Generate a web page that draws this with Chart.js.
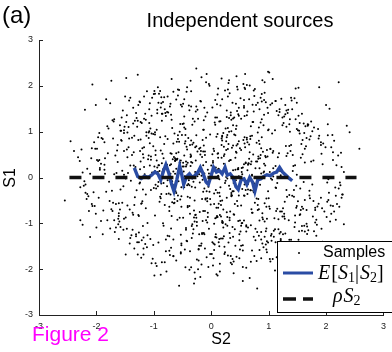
<!DOCTYPE html>
<html>
<head>
<meta charset="utf-8">
<script src="https://cdn.jsdelivr.net/npm/chart.js@4.4.0/dist/chart.umd.min.js"></script>
<style>
  html, body { margin: 0; padding: 0; background: #fff; }
  #wrap { width: 392px; height: 352px; position: relative; }
</style>
</head>
<body>
<div id="wrap"><canvas id="myChart"></canvas></div>
<script>
// samples: S2 (horizontal) and S1 (vertical)
const sampleS2 = [
  -0.42, 1.13, 0.27, -1.58, 0.71, -0.09, 0.93, -0.66, 1.74, -1.21, 0.15, -0.33, 0.58, -2.07, 0.84, -0.77, 1.36, 0.02, -0.51, 1.02,
  0.39, -1.04, -0.18, 0.66, -1.37, 1.49, -0.61, 0.11, -0.88, 2.14, -0.24, 0.47, -1.69, 0.79, 0.05, -0.95, 1.21, -0.36, 0.52, -1.12,
  0.91, -0.07, 1.63, -0.49, -1.83, 0.31, 0.74, -0.28, 1.08, -0.73, 0.19, -1.46, 0.63, 1.29, -0.14, -0.98, 0.44, 2.31, -0.57, 0.08,
  -1.26, 0.57, -0.39, 1.41, 0.13, -0.82, -1.95, 0.96, 0.29, -0.47, 1.82, -0.11, 0.68, -1.33, 0.38, -0.69, 1.17, -0.03, -1.57, 0.87,
  0.22, -0.58, 1.56, -0.93, 0.49, -0.21, -1.14, 0.81, 1.97, -0.44, 0.07, -1.71, 0.61, -0.31, 1.26, 0.34, -0.86, -2.28, 0.99, -0.16,
  1.38, -0.63, 0.18, -1.19, 0.72, -0.37, 0.53, 1.67, -1.01, 0.26, -0.54, 0.89, -1.52, 0.12, 1.11, -0.79, -0.06, 0.46, -1.28, 2.02,
  -0.26, 0.95, -1.41, 0.36, 1.52, -0.71, 0.04, -0.97, 0.64, -0.19, 1.24, -1.63, 0.41, -0.45, 0.83, -1.09, 1.88, -0.34, 0.17, -0.84,
  0.69, -1.23, 0.09, 1.33, -0.52, -2.16, 0.58, 1.04, -0.29, 0.27, -0.91, 1.59, -0.13, 0.76, -1.44, 0.33, -0.67, 1.19, 0.01, -1.76,
  -0.62, 1.46, 0.24, -0.38, 0.87, -1.18, 0.14, 2.41, -0.81, 0.55, -0.23, -1.34, 0.98, 0.37, -0.56, 1.71, -1.03, 0.21, -0.12, 0.65,
  1.28, -0.46, -1.66, 0.43, 0.06, -0.89, 1.01, -0.27, 0.73, -1.49, 0.28, 1.61, -0.72, -0.04, 0.92, -1.22, 0.48, -0.35, 1.44, -2.39,
  0.16, -0.74, 1.09, -1.11, 0.59, 0.32, -0.43, 1.78, -0.96, 0.11, -1.59, 0.77, -0.17, 1.31, -0.65, 0.45, -2.01, 0.85, -0.3, 0.03,
  -0.88, 0.62, 1.42, -0.22, -1.3, 0.25, 0.97, -0.59, 2.22, -0.08, 0.51, -1.07, 0.36, -0.41, 1.14, -1.86, 0.69, 0.12, -0.78, 1.53,
  0.47, -1.39, -0.15, 0.82, -0.64, 1.22, 0.07, -1.02, 0.35, 1.68, -0.53, -0.19, 0.94, -1.25, 0.21, -0.7, 1.47, -0.02, 0.6, -1.61,
  -0.37, 1.06, 0.3, -1.72, 0.78, -0.11, -0.85, 1.35, 0.19, -0.48, 2.08, -0.94, 0.54, -0.25, 1.16, -1.48, 0.1, 0.71, -0.6, -2.11,
  1.25, 0.02, -0.99, 0.58, -0.32, 1.87, -1.16, 0.4, -0.07, 0.86, -1.53, 0.23, 1.03, -0.68, -0.14, 0.63, -1.27, 1.39, -0.44, 0.34,
  -0.55, 0.81, -1.92, 0.14, 1.57, -0.83, 0.46, -0.2, 1.12, -1.35, 0.29, -0.5, 0.91, 2.27, -0.76, 0.05, -1.05, 0.67, 0.38, -0.31,
  0.74, -1.47, 0.2, 1.19, -0.4, -0.92, 0.55, 1.73, -0.17, -1.21, 0.88, 0.09, -0.63, 1.44, -1.81, 0.32, -0.26, 0.99, -0.73, 0.13,
  -1.09, 0.41, 1.31, -0.57, 0.06, -1.42, 0.79, -0.35, 1.62, -0.87, 0.24, 0.57, -2.24, 1.08, -0.1, -0.62, 0.35, 1.94, -1.17, 0.48,
  0.87, -0.28, -0.71, 1.51, 0.18, -1.62, 0.66, -0.05, 1.27, -0.99, 0.44, -0.39, 0.12, 1.79, -1.31, 0.6, -0.52, 0.93, -1.85, 0.27,
  -0.19, 1.36, -1.06, 0.5, 0.84, -0.45, -1.24, 0.17, 2.06, -0.68, 0.31, 1.05, -1.56, -0.03, 0.73, -0.9, 1.58, 0.22, -0.42, -0.13,
  1.17, -0.6, 0.28, -1.36, 0.95, -0.24, 0.62, -2.03, 1.43, -0.08, -0.8, 0.39, 1.21, -1.13, 0.15, -0.49, 0.8, 2.36, -0.97, 0.04,
  -0.7, 0.53, -1.5, 1.0, 0.26, -0.34, 1.65, -0.86, -0.12, 0.7, -1.19, 0.42, 1.33, -0.58, -1.78, 0.1, 0.89, -0.27, 1.09, -0.46,
  0.34, -0.93, 1.55, -0.16, -1.28, 0.61, 0.08, -0.64, 1.91, -1.04, 0.5, -0.21, -0.78, 1.26, 0.19, -1.67, 0.75, -0.38, 0.97, 0.0,
  -1.34, 0.71, 0.23, -0.53, 1.37, -2.19, 0.43, -0.09, 0.92, -0.74, 1.5, -1.1, 0.16, 0.56, -0.32, 1.13, -1.45, 0.37, -0.69, 2.17,
  0.58, -0.17, -1.23, 0.98, 0.13, -0.81, 1.69, -0.43, 0.3, -1.58, 0.82, -0.06, 1.24, -0.95, 0.47, -0.29, -1.97, 1.02, 0.2, -0.61,
  1.48, -0.36, 0.07, -1.01, 0.64, 1.85, -0.75, -0.23, 0.52, -1.4, 1.1, 0.25, -0.55, -1.15, 0.79, 0.33, -0.89, 1.6, -0.04, -2.32,
  -0.47, 1.2, -0.82, 0.35, 2.0, -1.26, 0.11, 0.68, -0.37, 1.34, -0.66, -1.7, 0.9, 0.03, -0.15, 1.52, -1.06, 0.44, 0.76, -0.5,
  0.28, -1.2, 0.6, -0.02, 1.15, -0.79, -1.52, 0.49, 0.85, -0.33, 1.76, -0.9, 0.18, -0.44, 1.07, -1.33, 0.39, 2.12, -0.71, 0.14,
  -0.95, 0.45, 1.28, -0.63, -0.1, 0.83, -1.89, 0.22, 1.45, -0.52, 0.66, -1.08, 0.01, 0.94, -0.28, -1.44, 1.66, 0.31, -0.84, 0.55,
  1.06, -0.41, -0.18, 1.92, -1.32, 0.37, 0.72, -0.92, 0.09, 1.39, -0.59, 0.27, -2.08, 0.86, -0.22, 1.18, -1.12, 0.5, -0.35, 0.99,
  -0.3, 0.88, -1.55, 0.19, 1.3, -0.7, 0.42, -0.14, 2.25, -1.0, 0.61, -0.47, 0.05, 1.49, -1.29, 0.32, -0.6, 0.93, -1.74, 0.24,
  0.67, -0.25, 1.12, -0.85, -1.46, 0.53, 0.15, -0.56, 1.71, -0.13, -1.18, 0.8, 0.36, -0.76, 1.23, -2.2, 0.46, 0.02, -0.4, 1.41,
  -1.0, 0.3, 0.77, -0.33, 1.54, -1.61, 0.12, 0.95, -0.65, 0.21, -1.38, 1.08, -0.07, 0.59, 1.83, -0.88, -0.2, 0.4, -1.14, 0.7,
  0.1, -0.67, 1.35, 0.26, -1.94, 0.84, -0.45, 0.57, -0.11, 1.27, -0.82, 2.04, -0.3, -1.23, 0.65, 0.17, -0.54, 1.11, -1.65, 0.38,
  1.63, -0.98, 0.33, -0.16, 0.9, -1.3, 0.48, -0.73, 1.2, 0.06, -2.45, 0.74, -0.38, 1.46, -0.87, 0.25, 0.58, -1.05, 0.11, -0.24,
  -0.58, 1.04, -0.12, 0.69, -1.2, 0.42, 1.81, -0.49, -0.94, 0.14, 1.26, -1.52, 0.8, -0.06, 0.35, -0.77, 2.58, -1.37, 0.56, 0.96,
  0.2, -1.07, 0.63, 1.58, -0.27, -0.68, 0.97, -1.8, 0.45, 0.08, -0.41, 1.32, -1.13, 0.71, -0.19, 1.0, -0.62, 0.29, -1.49, 1.7,
  -0.83, 0.38, -0.01, 1.15, -1.43, 0.87, 0.23, -0.52, 1.4, -0.98, 0.54, -0.29, -2.0, 0.92, 0.16, -0.66, 1.22, -0.1, 0.64, -1.24,
  0.43, 1.66, -0.7, -0.18, 0.89, -1.17, 0.31, 2.29, -0.43, -1.6, 0.75, 0.05, -0.85, 1.29, 0.19, -0.36, 0.62, -1.08, 1.93, -0.53,
  -1.52, 0.27, 1.07, -0.61, 0.12, -1.27, 0.83, -0.09, 0.52, -0.8, 1.55, -0.26, 0.4, -1.69, 1.03, 0.09, -0.48, -2.55, 1.36, -0.15,
  -1.85, 1.62, -0.35, 2.05, -1.12, 0.48, 1.91, -2.22, 0.87, -0.64, 1.33, -1.47, 0.15, 2.18, -0.92, 1.05, -1.71, 0.62, -0.21, 1.48,
  -0.72, 0.31, -1.58, 1.77, -0.05, 2.31, -1.29, 0.78, -2.02, 1.19, -0.43, 0.95, -1.88, 0.22, 1.64, -1.03, 0.57, -2.14, 1.38, -0.28,
  1.12, -1.66, 0.39, -0.81, 2.12, -0.17, 1.53, -1.34, 0.68, -2.29, 0.04, 1.86, -0.58, 1.27, -1.92, 0.46, -1.17, 2.24, -0.37, 0.89,
  -1.41, 0.73, -0.26, 1.97, -0.98, 0.11, 1.42, -1.79, 0.52, -0.69, 2.03, -1.24, 0.86, -0.13, 1.71, -2.08, 0.34, -0.87, 1.24, -1.55,
  0.27, -2.17, 1.58, -0.46, 0.96, -1.36, 2.27, -0.09, 1.07, -1.61, 0.61, -0.76, 1.83, -0.33, 0.43, -1.95, 1.16, -0.54, 2.09, -1.08,
  -0.16, 1.36, -1.22, 0.58, -1.99, 0.93, -0.53, 1.69, -0.94, 0.07, 2.16, -1.49, 0.38, -0.71, 1.11, -1.73, 0.74, -0.41, 1.52, -2.26,
  0.83, -0.38, 1.78, -1.14, 0.19, -1.68, 1.29, -0.61, 2.21, -0.99, 0.49, -2.11, 1.01, -0.22, 1.59, -1.31, 0.64, -0.86, 1.94, -0.08,
  -1.81, 1.22, -0.47, 0.71, -1.27, 2.11, -0.02, 1.47, -1.57, 0.36, -0.84, 1.87, -1.96, 0.57, -0.31, 1.14, -1.42, 0.92, -0.63, 1.68,
  0.12, -1.05, 1.63, -0.66, 2.28, -1.43, 0.81, -0.19, 1.31, -2.04, 0.44, -0.52, 1.76, -1.18, 0.28, -0.93, 2.02, -1.62, 0.66, -0.35,
  1.41, -0.77, 0.54, -1.86, 1.03, -0.25, 1.92, -1.11, 0.18, -1.51, 2.14, -0.44, 0.97, -1.74, 0.33, 1.56, -0.98, 0.75, -2.19, 1.19,
  -0.55, 0.88, -1.33, 0.03, 1.72, -2.07, 0.62, -0.72, 1.25, -0.14, 1.99, -1.26, 0.42, -0.89, 1.37, -1.64, 0.09, 2.26, -1.02, 0.51,
  -1.48, 0.24, 1.54, -0.83, 0.69, -1.97, 1.12, -0.36, 0.84, -1.21, 2.07, -0.59, 1.44, -1.54, 0.16, -0.97, 1.81, -0.26, 0.59, -2.13,
  1.95, -0.42, 0.77, -1.63, 0.29, 1.28, -0.91, 2.19, -1.38, 0.55, -0.18, 1.66, -1.83, 0.99, -0.66, 1.17, -0.04, -2.24, 1.49, -1.09,
  0.37, -1.24, 2.01, -0.07, 1.09, -1.76, 0.48, -0.56, 1.61, -2.01, 0.91, -0.34, 1.34, -1.46, 0.72, -0.79, 2.12, -1.15, 0.26, 1.79,
  -0.88, 1.51, -0.29, 0.96, -1.52, 0.14, 2.23, -1.01, 0.67, -1.89, 1.21, -0.47, 0.32, -1.28, 1.88, -0.12, 0.82, -1.69, 1.06, -0.61,
  1.31, -1.94, 0.57, -0.73, 1.84, -1.17, 0.05, 1.45, -0.48, 0.81, -2.16, 1.02, -0.86, 1.63, -1.36, 0.39, -0.24, 2.04, -1.59, 0.69,
  -0.21, 0.93, -1.61, 2.09, -0.66, 1.27, -1.04, 0.44, -2.21, 1.58, -0.39, 0.19, -1.41, 1.93, -0.92, 0.63, 1.36, -1.86, 0.11, -0.51,
  1.74, -1.31, 0.23, -0.97, 1.18, -1.72, 0.76, -0.14, 2.17, -0.81, 1.39, -1.99, 0.52, -0.58, 1.03, -1.25, 0.35, 1.67, -0.45, -2.05,
  0.47, -0.35, 1.91, -1.47, 0.61, -0.87, 1.49, -2.09, 0.17, 1.12, -1.19, 0.84, -0.69, 2.22, -1.56, 0.29, -0.11, 1.54, -1.77, 0.99,
  -1.18, 1.59, -0.53, 0.34, -1.91, 0.99, -0.28, 1.81, -1.35, 0.55, -0.76, 2.03, -1.07, 0.07, 1.21, -1.53, 0.88, -0.42, 1.46, -2.28
];
const sampleS1 = [
  0.61, -0.23, 1.32, -1.08, 0.04, 0.87, -0.56, -1.71, 0.35, 1.19, -0.41, 0.72, -0.15, 2.03, -0.94, 0.28, -1.36, 0.51, 1.55, -0.68,
  -0.12, 0.96, -1.49, 0.41, -0.77, 1.63, 0.19, -0.33, -2.12, 0.8, 0.07, -0.95, 1.27, -0.46, 0.58, 1.04, -1.19, 0.25, -0.61, 1.88,
  1.14, -0.52, 0.33, -0.88, 1.71, -0.18, -1.29, 0.66, 0.02, -1.6, 0.91, 0.44, -0.36, 1.38, -0.73, 0.14, 2.21, -1.02, 0.55, -0.27,
  -0.84, 0.29, -0.06, 1.49, -1.41, 0.73, 0.38, -0.64, 1.08, -0.21, -1.85, 0.57, 0.9, -0.43, 0.16, 1.26, -1.13, -0.31, 0.82, 0.09,
  0.47, 1.79, -0.71, 0.12, -1.24, 0.63, -0.37, 0.98, -2.28, 0.24, 1.15, -0.55, -0.08, 0.76, -1.52, 1.42, 0.31, -0.93, 0.05, -0.47,
  -1.61, 0.36, 0.85, -0.26, 1.59, -0.79, 0.21, -1.07, 0.68, 0.01, -0.48, 2.12, -0.9, 0.43, 1.03, -1.35, 0.17, -0.62, 1.24, -0.11,
  0.92, -1.17, 0.26, -0.39, 1.35, 0.08, -1.76, 0.59, -0.14, 1.67, -0.85, 0.34, -0.58, 0.79, -1.27, 0.48, 1.97, -0.2, 0.13, -1.0,
  -0.28, 1.21, -0.66, 0.53, -1.44, 0.19, 0.88, -0.02, -0.96, 1.46, 0.27, -1.99, 0.7, -0.34, 1.1, -0.74, 0.4, -1.22, 0.06, 1.62,
  0.39, -0.83, 1.9, -0.17, 0.64, -1.31, -0.04, 0.99, -0.6, 0.22, 1.28, -1.55, 0.46, -0.3, -2.36, 0.83, 0.11, -0.7, 1.52, 0.3,
  -0.53, 0.74, -1.09, 1.06, 0.15, -0.42, 2.29, -0.81, 0.5, -1.68, 0.93, -0.1, 0.27, -1.12, 1.37, -0.57, 0.03, 0.81, -1.47, 0.58,
  1.23, -0.35, 0.1, -0.99, 0.66, 1.84, -1.38, 0.37, -0.24, 0.95, -0.7, 0.2, -1.9, 1.11, 0.45, -0.51, 1.58, -0.16, -0.87, 0.32,
  -0.45, 0.87, 0.14, -1.56, 1.3, -0.07, 0.6, -0.92, 2.08, -0.3, -1.18, 0.75, 0.02, -0.65, 1.45, 0.28, -1.04, 0.53, -2.05, 1.02,
  0.18, -1.26, 0.82, 0.41, -0.55, 1.72, -0.89, 0.09, -0.38, 1.16, -1.63, 0.65, 0.26, -0.13, 0.97, -1.11, 1.94, -0.47, 0.33, -0.78,
  0.71, -0.05, -1.42, 1.25, 0.35, -0.73, 0.52, -1.96, 0.89, 0.13, -0.61, 1.4, -0.25, -1.05, 0.44, 2.17, -0.84, 0.06, 0.78, -1.3,
  -0.67, 1.53, 0.24, -0.4, -1.22, 0.85, 0.07, 1.31, -0.98, 0.49, -0.19, -1.51, 0.62, 1.08, -0.31, 0.16, -0.82, 1.74, -1.14, 0.38,
  1.0, -0.6, 0.3, -1.34, 0.73, -0.12, 1.92, -0.75, -0.22, 0.55, -1.7, 1.17, 0.11, -0.44, 0.84, -1.01, 0.39, -2.19, 1.29, -0.09,
  -0.32, 0.61, -0.97, 1.43, -0.14, 0.27, -1.48, 0.9, 0.04, -0.56, 1.66, -0.87, 0.42, -0.27, 1.12, -1.21, 0.68, 2.31, -0.64, 0.19,
  0.86, -1.13, 0.47, -0.08, 1.2, -0.7, -1.82, 0.34, 0.97, -0.36, 0.15, 1.56, -1.03, 0.58, -0.48, -0.15, 1.01, -1.4, 0.23, 0.79,
  -1.19, 0.12, 1.61, -0.52, 0.43, -0.9, 0.72, -0.2, 1.33, -2.14, 0.54, 0.01, -0.66, 1.09, -1.28, 0.31, -0.41, 1.85, 0.08, -0.76,
  0.5, -0.38, 1.07, -1.57, 0.2, 0.93, -0.11, -0.85, 1.5, -0.54, 0.36, -1.23, 0.8, 2.0, -0.29, 0.14, -1.06, 0.67, -0.17, 1.25,
  -0.91, 0.4, -0.02, 1.18, -1.46, 0.57, 0.83, -0.62, 0.25, -1.74, 1.41, -0.3, 0.05, 0.99, -0.82, 0.32, -2.42, 1.13, -0.16, 0.63,
  0.29, -1.0, 1.77, -0.45, 0.1, -1.32, 0.68, 1.24, -0.24, -0.69, 0.51, 0.17, -1.52, 0.92, -0.09, 1.6, -0.78, 0.37, -1.16, 0.03,
  1.36, -0.19, -0.8, 0.45, 2.24, -1.07, 0.22, -0.47, 0.77, -1.87, 0.64, 0.07, -0.36, 1.19, -0.95, 0.48, -0.13, 1.47, -1.39, 0.26,
  -0.6, 0.91, 0.16, -1.25, 1.0, -0.33, 0.56, -0.93, 1.69, 0.03, -1.62, 0.4, -0.21, 0.82, 1.28, -0.73, 0.1, -1.08, 0.52, -0.4,
  0.74, -1.44, 0.35, 1.52, -0.57, 0.0, -1.15, 0.67, 2.06, -0.26, 0.46, -0.86, 1.14, -1.93, 0.21, -0.5, 0.88, 0.12, -0.99, 1.7,
  -0.18, 0.5, -1.3, 0.95, 0.28, -0.63, 1.42, -2.0, 0.6, -0.07, -0.89, 1.07, 0.33, -1.45, 0.76, -0.25, 1.89, -0.68, 0.09, 0.44,
  1.09, -0.74, 0.2, -0.34, 1.58, -1.2, 0.52, 0.84, -0.44, -1.58, 0.13, 1.22, -0.91, 0.36, -0.05, 1.96, -1.34, 0.7, -0.55, 0.24,
  -1.05, 0.64, -0.27, 0.94, -0.68, 1.34, 0.06, -1.76, 0.42, 1.15, -0.15, -0.53, 0.71, -1.1, 2.15, 0.19, -0.8, 0.55, -0.37, -1.5,
  0.37, 1.45, -0.9, 0.08, -0.46, 0.8, -1.24, 0.3, 1.73, -0.64, -0.01, 1.01, -1.67, 0.47, -0.22, 0.66, -1.01, 1.3, 0.18, -2.26,
  0.96, -0.42, 0.58, -1.12, 0.23, 1.63, -0.77, -0.1, 0.89, -1.36, 0.41, 0.11, -0.58, 1.2, -1.81, 0.53, 0.02, -0.94, 1.55, -0.3,
  -0.72, 1.27, 0.15, -0.5, 0.69, -1.53, 0.92, 0.27, -0.17, 1.82, -1.04, 0.48, -0.35, 0.06, 1.11, -0.88, 0.39, -1.29, 2.11, -0.12,
  0.55, -0.97, 0.25, 1.39, -0.61, 0.12, -1.88, 0.78, -0.29, 1.04, 0.43, -1.19, 0.65, -0.06, -0.74, 1.48, 0.18, -1.41, 0.86, -0.4,
  -0.23, 0.73, -1.37, 0.32, 1.19, -0.84, 0.04, 1.64, -0.56, -1.09, 0.87, 0.2, -0.45, 2.26, -1.27, 0.59, -0.11, 0.94, -0.67, 0.35,
  1.31, -0.16, -0.93, 0.6, 0.17, -1.58, 1.06, -0.39, 0.49, -0.79, 1.75, -0.04, -2.31, 0.83, 0.31, -0.6, 1.17, -1.13, 0.1, 0.7,
  -0.49, 0.99, 0.38, -1.21, 0.56, -0.28, 1.52, -0.73, 0.14, -1.46, 0.79, 1.9, -0.62, 0.27, -0.13, -1.02, 1.34, 0.46, -0.86, 0.03,
  0.84, -1.27, 0.09, 1.12, -0.52, 0.43, -0.98, 1.61, 0.22, -0.33, -1.7, 0.97, 0.35, -0.77, 1.26, -0.19, 0.63, -1.14, 2.04, -0.46,
  -1.33, 0.26, 0.77, -0.64, 1.44, -0.08, -0.9, 0.53, 1.98, -1.24, 0.32, -0.42, 0.91, -1.59, 0.13, 1.05, -0.3, 0.62, -0.02, -1.93,
  0.42, 1.14, -0.59, -0.12, 0.85, -1.35, 0.51, -0.21, 1.68, -0.83, 0.07, 1.22, -1.09, 0.3, -0.51, 0.74, -2.1, 1.33, -0.26, 0.58,
  -0.06, -0.71, 1.37, 0.19, -1.44, 0.66, 1.0, -0.37, 0.28, -0.96, 1.78, -0.58, 0.12, -1.22, 0.81, 0.45, -0.15, 1.49, -1.66, 0.37,
  1.03, -0.44, -1.78, 0.53, 0.18, 1.58, -0.69, 0.34, -1.05, 0.9, -0.24, 2.38, -0.81, 0.07, 0.63, -1.31, 0.24, -0.5, 1.16, -0.95,
  0.42, -1.05, 1.88, -0.33, -1.52, 1.35, 0.71, -0.18, -1.76, 0.96, 1.41, -1.12, -2.05, 0.27, 1.63, -1.38, 0.85, 2.02, -1.24, -0.66,
  -1.69, 2.12, 1.02, -0.85, -1.95, 0.12, -1.41, 1.58, 0.63, -1.62, 1.87, 0.44, -0.72, -1.28, 1.12, 1.74, -0.94, -0.41, 0.58, -2.21,
  1.67, -0.58, -1.83, 1.49, -0.62, 2.19, -1.17, 0.91, -0.28, 0.36, -1.44, 1.06, 1.92, -1.73, -0.95, 0.73, 1.28, -0.11, -1.61, -0.87,
  -1.32, 1.21, 1.55, -0.74, 1.83, -2.14, 0.49, 1.07, -1.49, -0.84, 0.92, 0.18, 1.74, -1.21, -0.39, 0.64, -1.86, 1.62, 1.31, -0.55,
  0.88, -0.47, 1.39, -1.57, -1.11, 1.52, 0.23, 2.08, 0.54, -1.34, -1.97, 1.77, -0.92, -1.02, 1.61, 0.97, -1.58, 0.32, -0.79, 1.19,
  -1.23, 0.69, -1.75, 1.96, 0.38, -0.96, -1.66, 1.15, 1.48, 1.31, -0.22, -0.87, -1.29, 0.53, -2.03, -0.29, 1.44, -0.62, -1.36, 0.61,
  1.09, -2.01, -0.51, 1.26, 1.71, -1.19, 1.58, -0.34, 0.48, 1.89, -1.37, 0.08, -0.63, -1.57, 0.82, 1.41, -1.09, -1.85, 0.29, 2.26,
  -0.93, -1.46, 1.33, -0.77, 0.82, 0.93, -1.67, 1.27, 1.02, -1.89, 1.65, -0.57, -0.44, 1.52, -1.13, -1.74, -1.44, 0.13, 0.37, 1.13,
  1.94, -0.27, -1.18, -1.35, -0.37, 1.68, -0.71, -2.17, 1.46, 0.77, 1.13, -1.48, 1.01, -1.55, -0.86, 1.97, -0.53, -1.02, 1.71, 0.47,
  -1.54, 1.43, -0.99, 0.17, 1.59, -1.79, 0.52, -1.26, 2.16, 1.11, -0.74, 0.35, -1.63, -0.69, -1.32, 0.43, 0.94, -1.71, -0.15, 1.49,
  -0.88, 1.82, 1.24, -1.92, -0.45, -0.62, 1.36, 1.55, -1.24, 1.04, 0.66, -1.41, -1.49, 0.88, 1.27, 0.59, -2.11, 0.54, -1.77, 1.73,
  1.21, -1.63, 0.96, -1.05, -1.84, 0.36, 1.67, 2.11, 0.73, -1.37, -0.96, -0.51, -0.42, 1.46, 1.57, -1.87, -0.71, -0.88, 1.93, -0.73,
  0.74, -1.39, -1.12, 0.71, 1.77, -1.53, 1.83, -0.58, 0.49, -1.95, 1.66, 0.86, -0.31, -1.42, -1.72, 1.36, 2.04, 0.11, -0.62, 0.98,
  -1.78, 1.64, -0.86, 1.42, -1.29, -1.11, -0.39, 1.91, 1.18, -0.79, -1.52, -1.06, 1.48, 0.98, 1.21, -1.61, 0.38, 1.39, 0.79, -1.17,
  1.53, 1.03, -2.07, -1.57, 0.58, 1.22, -0.64, -1.47, 2.01, 0.84, -1.34, 1.71, -0.93, -1.68, 0.91, -1.24, -0.47, -0.93, 1.62, -1.81,
  -0.27, 0.21, 1.69, -1.28, -1.03, 1.77, -1.58, -1.08, 1.18, 1.63, -0.36, -1.78, 1.39, 0.63, -0.81, -2.09, 1.48, -0.49, 1.14, 0.29,
  -1.49, 2.08, -0.56, 0.66, 1.87, -0.85, 1.35, -1.73, -0.08, -1.16, 1.57, -0.98, 1.74, -0.67, -1.42, 1.44, -1.67, 0.77, 1.81, 0.93,
  1.22, -1.24, -1.67, 0.49, -1.48, -0.73, 1.93, 0.57, -0.92, -1.85, 0.71, 0.63, 1.28, -0.39, -1.83, 1.66, -0.41, -1.23, -1.96, -0.32,
  1.38, -1.96, -0.44, 1.36, -1.18, 1.75, 1.06, 0.42, -1.33, -1.41, -1.06, 1.49, 2.15, -0.24, 1.31, 1.92, -1.55, -0.82, -0.51, 1.03,
  -1.68, 0.51, 1.59, -1.71, 0.86, 1.41, -0.82, -0.66, 0.26, -1.59, -1.27, 1.16, 1.62, 1.69, -1.37, -1.14, 0.88, 1.97, -0.98, -0.21
];

// E[S1|S2]
const condS2 = [-1.34, -1.28, -1.22, -1.16, -1.10, -1.04, -0.98, -0.93, -0.88, -0.83, -0.79, -0.74, -0.69, -0.65,
  -0.60, -0.55, -0.52, -0.48, -0.43, -0.38, -0.33, -0.28, -0.23, -0.19, -0.14, -0.09, -0.05, 0.0, 0.04, 0.09,
  0.14, 0.19, 0.24, 0.28, 0.33, 0.38, 0.43, 0.47, 0.52, 0.57, 0.62, 0.67, 0.72, 0.76, 0.81, 0.86, 0.91, 0.97,
  1.03, 1.09, 1.14, 1.19, 1.24, 1.30, 1.36, 1.41];
const condS1 = [0.21, 0.02, -0.02, 0.03, 0.0, 0.05, 0.12, 0.08, -0.05, 0.15, 0.28, 0.1, -0.15, -0.3,
  -0.05, 0.25, 0.1, -0.15, 0.02, 0.08, 0.0, 0.05, 0.12, 0.22, 0.08, -0.1, -0.15, 0.05, 0.22, 0.12,
  0.15, 0.08, 0.22, 0.05, 0.08, 0.0, -0.2, -0.26, -0.05, -0.03, -0.15, 0.0, -0.1, -0.3, -0.05, -0.03, 0.02, 0.06,
  0.04, 0.1, 0.12, 0.22, 0.12, 0.05, -0.02, -0.07];

// rho * S2 (rho = 0)
const rhoLineS2 = [-2.47, 2.53];
const rhoLineS1 = [0, 0];

const tickValues = [-3, -2, -1, 0, 1, 2, 3];

const sans = '"Liberation Sans", Arial, Helvetica, sans-serif';
const serif = '"Liberation Serif", "Times New Roman", serif';

function richText(ctx, x, y, parts) {
  parts.forEach(p => {
    ctx.font = p.font;
    ctx.fillText(p.t, x, y + (p.dy || 0));
    x += ctx.measureText(p.t).width + (p.gap || 0);
  });
}

const decor = {
  id: 'decor',
  afterDraw(chart) {
    const { ctx, chartArea, scales } = chart;
    const xs = scales.x, ys = scales.y;
    ctx.save();
    // inward tick marks
    ctx.strokeStyle = '#222';
    ctx.lineWidth = 1;
    tickValues.forEach(v => {
      const px = Math.round(xs.getPixelForValue(v)) + 0.5;
      ctx.beginPath(); ctx.moveTo(px, chartArea.bottom); ctx.lineTo(px, chartArea.bottom - 4); ctx.stroke();
      const py = Math.round(ys.getPixelForValue(v)) + 0.5;
      ctx.beginPath(); ctx.moveTo(chartArea.left, py); ctx.lineTo(chartArea.left + 4, py); ctx.stroke();
    });

    // legend
    ctx.fillStyle = '#fff';
    ctx.fillRect(277, 241, 120, 71);
    ctx.strokeStyle = '#000';
    ctx.lineWidth = 1;
    ctx.strokeRect(277.5, 241.5, 120, 71);
    ctx.fillStyle = '#000';
    ctx.beginPath(); ctx.arc(299, 253, 1, 0, Math.PI * 2); ctx.fill();
    ctx.font = '16px ' + sans;
    ctx.textAlign = 'left';
    ctx.textBaseline = 'alphabetic';
    ctx.fillText('Samples', 323, 257);
    ctx.strokeStyle = '#2a4ca4';
    ctx.lineWidth = 3;
    ctx.beginPath(); ctx.moveTo(283, 273); ctx.lineTo(313, 273); ctx.stroke();
    ctx.fillStyle = '#000';
    const it = 'italic 20px ' + serif, up = '20px ' + serif, sub = '14px ' + serif;
    richText(ctx, 318, 279, [
      { t: 'E', font: it, gap: 1 }, { t: '[', font: up }, { t: 'S', font: it }, { t: '1', font: sub, dy: 3 },
      { t: '|', font: up, gap: 1 }, { t: 'S', font: it }, { t: '2', font: sub, dy: 3 }, { t: ']', font: up }
    ]);
    ctx.strokeStyle = '#111';
    ctx.lineWidth = 3.5;
    ctx.beginPath(); ctx.moveTo(283, 299); ctx.lineTo(296, 299); ctx.moveTo(303, 299); ctx.lineTo(313, 299); ctx.stroke();
    richText(ctx, 333, 302, [
      { t: 'ρ', font: it, gap: 1 }, { t: 'S', font: it }, { t: '2', font: sub, dy: 3 }
    ]);

    // titles and labels
    ctx.fillStyle = '#000';
    ctx.textAlign = 'center';
    ctx.font = '20px ' + sans;
    ctx.fillText('Independent sources', 240, 27);
    ctx.font = '16px ' + sans;
    ctx.fillText('S2', 221, 344);
    ctx.save();
    ctx.translate(15, 178);
    ctx.rotate(-Math.PI / 2);
    ctx.fillText('S1', 0, 0);
    ctx.restore();
    ctx.textAlign = 'left';
    ctx.font = '24px ' + sans;
    ctx.fillText('(a)', 2, 23);
    ctx.fillStyle = '#ff00ff';
    ctx.font = '21px ' + sans;
    ctx.fillText('Figure 2', 32, 341);
    ctx.restore();
  }
};

const samplePoints = sampleS2.map((v, i) => ({ x: v, y: sampleS1[i] }));
const condPoints = condS2.map((v, i) => ({ x: v, y: condS1[i] }));
const rhoPoints = rhoLineS2.map((v, i) => ({ x: v, y: rhoLineS1[i] }));

new Chart(document.getElementById('myChart'), {
  type: 'scatter',
  data: {
    datasets: [
      {
        label: 'ρS2',
        data: rhoPoints,
        showLine: true,
        borderColor: '#111',
        borderWidth: 3.5,
        borderDash: [12, 11],
        pointRadius: 0
      },
      {
        label: 'E[S1|S2]',
        data: condPoints,
        showLine: true,
        borderColor: '#2a4ca4',
        borderWidth: 3.4,
        pointRadius: 0
      },
      {
        label: 'Samples',
        data: samplePoints,
        pointRadius: 1.0,
        pointBorderWidth: 0,
        backgroundColor: '#000'
      }
    ]
  },
  options: {
    responsive: true,
    maintainAspectRatio: false,
    animation: false,
    events: [],
    layout: { padding: { top: 40, right: 5, left: 0, bottom: 0 } },
    plugins: { legend: { display: false }, tooltip: { enabled: false }, title: { display: false } },
    scales: {
      x: {
        type: 'linear', min: -3, max: 3,
        grid: { display: false, drawTicks: false },
        border: { display: true, color: '#222', width: 1 },
        ticks: { stepSize: 1, padding: 6, color: '#222', font: { family: sans, size: 9 } },
        afterFit: s => { s.height = 37; }
      },
      y: {
        type: 'linear', min: -3, max: 3,
        grid: { display: false, drawTicks: false },
        border: { display: true, color: '#222', width: 1 },
        ticks: { stepSize: 1, padding: 6, color: '#222', font: { family: sans, size: 9 } },
        afterFit: s => { s.width = 39; }
      }
    }
  },
  plugins: [decor]
});
</script>
</body>
</html>
